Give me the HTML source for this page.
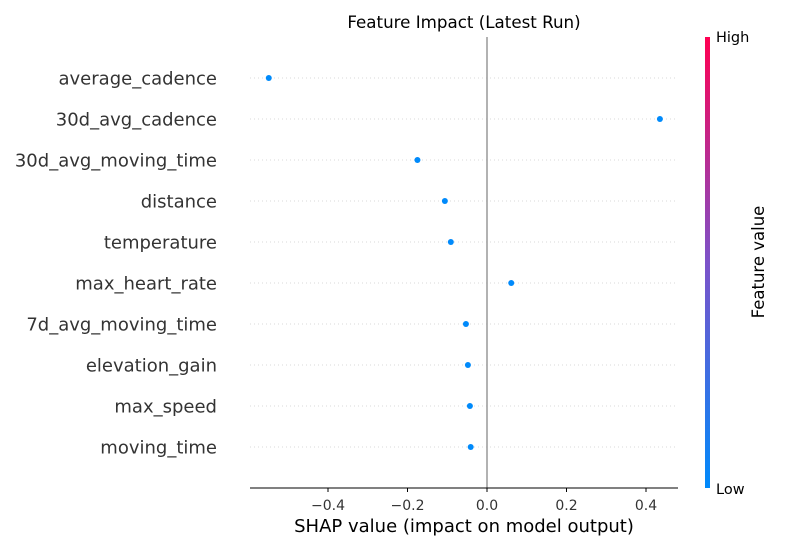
<!DOCTYPE html>
<html><head><meta charset="utf-8"><style>
body{margin:0;background:#fff;}
svg text{font-family:"DejaVu Sans","Liberation Sans",sans-serif;}
</style></head><body>
<svg id="chart" width="800" height="550" xmlns="http://www.w3.org/2000/svg">
<defs><linearGradient id="cb" x1="0" y1="1" x2="0" y2="0">
<stop offset="0" stop-color="#008afb"/><stop offset="0.5" stop-color="#7c52c9"/><stop offset="1" stop-color="#ff0052"/>
</linearGradient></defs>
<text x="464" y="28" font-size="16.7" text-anchor="middle" fill="#000">Feature Impact (Latest Run)</text>
<g id="grid"></g>
<line x1="487" y1="37" x2="487" y2="488" stroke="#999" stroke-width="1.5"/>
<line x1="250" y1="488" x2="678" y2="488" stroke="#000" stroke-width="1"/>
<g id="xticks"></g>
<g id="points"></g>
<g id="ylabels"></g>
<text x="464" y="532" font-size="18" text-anchor="middle" fill="#000">SHAP value (impact on model output)</text>
<rect x="705" y="37" width="5" height="451" fill="url(#cb)"/>
<text x="716" y="42" font-size="14.5" fill="#000">High</text>
<text x="716" y="494" font-size="14.5" fill="#000">Low</text>
<text x="764" y="262" font-size="16.5" text-anchor="middle" fill="#000" transform="rotate(-90 764 262)">Feature value</text>
</svg>
<script>
const features=["average_cadence","30d_avg_cadence","30d_avg_moving_time","distance","temperature","max_heart_rate","7d_avg_moving_time","elevation_gain","max_speed","moving_time"];
const shapValues=[-0.549,0.435,-0.175,-0.106,-0.091,0.061,-0.053,-0.048,-0.043,-0.041];
const xTicks=[-0.4,-0.2,0.0,0.2,0.4];
const xTickLabels=["\u22120.4","\u22120.2","0.0","0.2","0.4"];
const NS="http://www.w3.org/2000/svg";
const xs=v=>487+v*397.5;
const ys=i=>78+i*41;
function mk(t,a,p){const e=document.createElementNS(NS,t);for(const k in a)e.setAttribute(k,a[k]);p.appendChild(e);return e;}
const grid=document.getElementById('grid'),pts=document.getElementById('points'),yl=document.getElementById('ylabels'),xt=document.getElementById('xticks');
features.forEach((f,i)=>{
 const g=mk('line',{x1:250,x2:678,y1:ys(i),y2:ys(i),stroke:'#ccc','stroke-width':0.8,'stroke-dasharray':'1,3'},grid);
 
 
 const t=mk('text',{x:217,y:ys(i)+6.5,'font-size':18,'text-anchor':'end',fill:'#333'},yl);
 t.textContent=f;
 
 
 const c=mk('circle',{cx:xs(shapValues[i]),cy:ys(i),r:3,fill:'#008afb'},pts);
 
 
});
xTicks.forEach((v,i)=>{
 const l=mk('line',{x1:xs(v),x2:xs(v),y1:488,y2:492,stroke:'#000'},xt);
 
 
 const t=mk('text',{x:xs(v),y:510,'font-size':14,'text-anchor':'middle',fill:'#333'},xt);
 t.textContent=xTickLabels[i];
 
 
});
</script>
</body></html>
